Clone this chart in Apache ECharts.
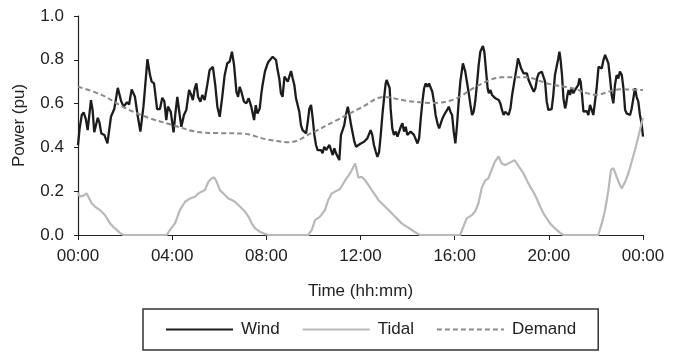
<!DOCTYPE html>
<html><head><meta charset="utf-8">
<script src="https://cdn.jsdelivr.net/npm/echarts@6/dist/echarts.min.js"></script>
<style>html,body{margin:0;padding:0;background:#fff}#c{width:684px;height:363px}</style>
</head><body><div id="c"></div><script>
// Time axis (hours since midnight) and tick labels
const xTickHours = [0, 4, 8, 12, 16, 20, 24];
const xTickLabels = ['00:00', '04:00', '08:00', '12:00', '16:00', '20:00', '00:00'];

// Wind (pu)
const windHours = [0,0.07,0.16,0.24,0.33,0.41,0.55,0.62,0.69,0.84,0.91,0.99,1.12,1.25,1.40,1.54,1.69,1.83,1.94,2.08,2.17,2.28,2.42,2.53,2.65,2.78,2.95,3.06,3.13,3.23,3.36,3.48,3.58,3.67,3.75,
3.82,3.94,4.06,4.13,4.22,4.32,4.39,4.50,4.60,4.72,4.81,4.88,4.96,5.03,5.10,5.20,5.28,5.38,5.49,5.59,5.73,5.83,5.92,6.02,6.12,6.23,6.34,6.44,6.54,6.63,6.73,6.80,6.87,6.94,7.05,7.15,7.25,7.36,7.48,7.55,7.62,7.72,7.79,
7.84,7.94,8.03,8.09,8.17,8.27,8.34,8.41,8.48,8.55,8.62,8.69,8.77,8.84,8.91,8.98,9.05,9.12,9.19,9.26,9.33,9.40,9.47,9.54,9.61,9.69,9.76,9.83,9.90,9.97,10.04,10.11,10.18,10.25,10.32,10.39,10.46,10.54,10.61,10.68,10.75,10.82,10.89,10.96,11.03,11.10,11.17,11.24,11.31,11.38,11.46,11.53,11.60,11.67,11.74,11.81,
11.87,12.01,12.15,12.29,12.43,12.50,12.57,12.65,12.72,12.79,12.86,12.93,13.00,13.07,13.11,13.18,13.24,13.28,13.35,13.42,13.50,13.57,13.64,13.71,13.78,13.85,13.92,13.99,14.06,14.13,14.20,14.27,14.34,14.42,14.49,14.56,14.63,14.70,14.77,14.84,14.91,14.98,15.05,15.12,15.19,15.27,15.34,15.41,15.48,15.55,15.62,
15.68,15.75,15.82,15.89,15.96,16.03,16.10,16.17,16.24,16.35,16.45,16.52,16.60,16.67,16.74,16.81,16.88,16.95,17.02,17.09,17.20,17.26,17.33,17.40,17.45,17.52,17.59,17.66,17.73,17.80,17.87,17.94,18.01,18.08,18.15,18.22,18.29,18.37,18.44,18.51,18.58,18.65,18.69,18.76,18.82,18.88,18.93,19.00,19.07,19.14,19.22,19.29,19.36,19.43,19.50,19.57,
19.70,19.77,19.84,19.91,19.98,20.05,20.12,20.19,20.26,20.33,20.40,20.45,20.50,20.56,20.62,20.69,20.73,20.79,20.84,20.90,20.97,21.04,21.11,21.18,21.25,21.30,21.35,21.41,21.47,21.54,21.61,21.68,21.75,21.82,21.89,21.96,22.03,22.11,22.18,22.25,22.32,22.39,22.46,22.53,22.60,22.67,22.74,22.81,22.88,22.95,23.02,23.10,23.17,23.24,23.31,23.38,23.45,23.52,23.59,23.66,23.73,23.80,23.87,23.94,24.00];
const windPower = [0.41,0.487,0.548,0.56,0.53,0.479,0.616,0.571,0.469,0.535,0.514,0.464,0.457,0.418,0.54,0.575,0.672,0.612,0.586,0.606,0.596,0.665,0.631,0.548,0.472,0.586,0.803,0.73,0.70,0.692,0.575,0.575,0.627,0.609,0.525,
0.586,0.563,0.469,0.548,0.631,0.548,0.494,0.548,0.571,0.662,0.639,0.616,0.67,0.692,0.631,0.609,0.639,0.616,0.685,0.753,0.768,0.685,0.586,0.54,0.624,0.73,0.784,0.791,0.837,0.776,0.654,0.631,0.677,0.654,0.609,0.601,0.624,0.586,0.525,0.593,0.555,0.578,0.647,
0.685,0.746,0.776,0.791,0.799,0.814,0.822,0.799,0.753,0.715,0.647,0.631,0.723,0.73,0.70,0.708,0.749,0.715,0.685,0.624,0.616,0.563,0.502,0.479,0.472,0.464,0.517,0.578,0.594,0.532,0.457,0.411,0.388,0.38,0.388,0.373,0.403,0.388,0.38,0.411,0.388,0.365,0.396,0.373,0.357,0.342,0.457,0.479,0.502,0.548,0.586,0.548,0.502,0.464,0.426,0.403,
0.395,0.418,0.426,0.441,0.479,0.457,0.411,0.38,0.357,0.38,0.457,0.548,0.624,0.692,0.708,0.708,0.67,0.578,0.487,0.457,0.472,0.449,0.457,0.494,0.51,0.472,0.494,0.457,0.464,0.472,0.472,0.457,0.449,0.418,0.441,0.532,0.609,0.669,0.692,0.677,0.692,0.685,0.654,0.609,0.548,0.51,0.487,0.51,0.532,0.548,0.555,
0.571,0.586,0.563,0.548,0.472,0.418,0.502,0.609,0.70,0.784,0.746,0.70,0.647,0.594,0.548,0.563,0.616,0.692,0.776,0.837,0.863,0.837,0.753,0.67,0.647,0.662,0.639,0.647,0.624,0.631,0.616,0.601,0.571,0.548,0.563,0.555,0.548,0.578,0.639,0.685,0.73,0.776,0.806,0.784,0.761,0.753,0.738,0.73,0.738,0.708,0.70,0.67,0.654,0.67,0.715,0.738,
0.746,0.753,0.70,0.609,0.571,0.566,0.575,0.639,0.73,0.768,0.806,0.837,0.799,0.73,0.624,0.578,0.594,0.639,0.662,0.639,0.67,0.647,0.662,0.662,0.685,0.715,0.70,0.639,0.563,0.555,0.566,0.548,0.594,0.571,0.548,0.54,0.669,0.768,0.776,0.761,0.799,0.822,0.814,0.784,0.715,0.639,0.601,0.685,0.73,0.715,0.746,0.73,0.67,0.571,0.555,0.548,0.548,0.578,0.624,0.67,0.631,0.609,0.548,0.51,0.449];

// Tidal (pu)
const tidalHours = [0,0.08,0.23,0.37,0.44,0.58,0.72,0.93,1.15,1.36,1.57,1.78,1.93,3.77,3.91,4.12,4.33,4.55,4.76,4.97,5.11,5.25,5.39,5.54,5.68,5.79,5.89,6.03,6.24,6.39,6.53,6.67,6.81,6.95,7.09,7.24,7.38,7.52,7.73,7.94,8.09,
9.78,9.93,10.07,10.28,10.49,10.63,10.78,10.92,11.13,11.34,11.56,11.70,11.77,11.84,11.91,12.05,12.19,12.34,12.48,12.62,12.76,12.90,13.04,13.19,13.40,13.54,13.75,13.96,14.18,14.39,14.53,
16.23,16.37,16.51,16.73,16.87,17.01,17.15,17.29,17.43,17.57,17.71,17.86,17.93,18.00,18.14,18.28,18.42,18.54,18.64,18.78,18.92,19.06,19.20,19.34,19.48,19.63,19.77,19.91,20.05,20.26,20.48,20.62,
22.10,22.25,22.39,22.53,22.64,22.74,22.88,23.02,23.10,23.24,23.38,23.52,23.66,23.80,23.94,24.00];
const tidalPower = [0.193,0.175,0.18,0.19,0.175,0.145,0.13,0.114,0.09,0.053,0.03,0.01,0,0,0.023,0.053,0.114,0.152,0.167,0.175,0.19,0.198,0.205,0.243,0.259,0.263,0.243,0.205,0.183,0.167,0.16,0.152,0.137,0.122,0.107,0.084,0.053,0.03,0.015,0.005,0,
0,0.023,0.068,0.084,0.114,0.16,0.19,0.198,0.21,0.248,0.282,0.312,0.327,0.297,0.262,0.266,0.251,0.228,0.205,0.183,0.16,0.145,0.13,0.114,0.091,0.076,0.053,0.038,0.023,0.008,0,
0,0.038,0.076,0.091,0.107,0.145,0.215,0.248,0.259,0.297,0.335,0.358,0.35,0.327,0.32,0.327,0.335,0.342,0.327,0.304,0.282,0.251,0.221,0.198,0.168,0.13,0.099,0.076,0.053,0.03,0.01,0,
0,0.053,0.114,0.205,0.297,0.305,0.266,0.228,0.213,0.243,0.282,0.335,0.388,0.449,0.51,0.534];

// Demand (pu), hourly
const demandHours = [0,1,2,3,4,5,6,7,8,9,10,11,12,13,14,15,16,17,18,19,20,21,22,23,24];
const demandPower = [0.677,0.64,0.58,0.535,0.503,0.472,0.465,0.463,0.437,0.424,0.47,0.525,0.58,0.63,0.612,0.603,0.62,0.683,0.72,0.72,0.69,0.67,0.64,0.665,0.662];

const pairs = (xs, ys) => xs.map((x, i) => [x, ys[i]]);
const FONT = 'Liberation Sans, Arial, Helvetica, sans-serif';
const TXT = '#222';

const chart = echarts.init(document.getElementById('c'), null, {renderer: 'canvas'});
chart.setOption({
  animation: false,
  backgroundColor: '#fff',
  textStyle: {fontFamily: FONT, color: TXT},
  grid: {left: 78, right: 41, top: 16, bottom: 128, containLabel: false},
  xAxis: {
    type: 'value', min: 0, max: 24, interval: 4,
    name: 'Time (hh:mm)', nameLocation: 'middle', nameGap: 48,
    nameTextStyle: {fontSize: 17, color: TXT, fontFamily: FONT},
    axisLine: {show: true, lineStyle: {color: '#222', width: 1.2}},
    axisTick: {show: true, length: 5, lineStyle: {color: '#222'}},
    axisLabel: {fontSize: 17, color: TXT, margin: 13, fontFamily: FONT,
      formatter: v => { const i = xTickHours.indexOf(v); return i >= 0 ? xTickLabels[i] : ''; }},
    splitLine: {show: false}
  },
  yAxis: {
    type: 'value', min: 0, max: 1, interval: 0.2,
    name: 'Power (pu)', nameLocation: 'middle', nameGap: 50,
    nameTextStyle: {fontSize: 17, color: TXT, fontFamily: FONT},
    axisLine: {show: true, lineStyle: {color: '#222', width: 1.2}},
    axisTick: {show: true, length: 4, lineStyle: {color: '#222'}},
    axisLabel: {fontSize: 17, color: TXT, margin: 14, fontFamily: FONT, formatter: v => v.toFixed(1)},
    splitLine: {show: false}
  },
  legend: {
    left: 143, top: 309, orient: 'horizontal',
    borderColor: '#333', borderWidth: 1.5,
    padding: [12, 22, 12, 22],
    itemWidth: 67, itemHeight: 14, itemGap: 22,
    itemStyle: {opacity: 0, borderWidth: 0},
    textStyle: {fontSize: 17, color: TXT, fontFamily: FONT, padding: [0, 0, 0, 3]},
    data: ['Wind', 'Tidal', 'Demand']
  },
  series: [
    {name: 'Wind', type: 'line', symbol: 'none', data: pairs(windHours, windPower),
      lineStyle: {color: '#1c1c1c', width: 2.3}, itemStyle: {color: '#1c1c1c'}},
    {name: 'Tidal', type: 'line', symbol: 'none', data: pairs(tidalHours, tidalPower),
      lineStyle: {color: '#b9b9b9', width: 2.2}, itemStyle: {color: '#b9b9b9'}},
    {name: 'Demand', type: 'line', symbol: 'none', smooth: 0.35, data: pairs(demandHours, demandPower),
      lineStyle: {color: '#8a8a8a', width: 2, type: [5, 3]}, itemStyle: {color: '#8a8a8a'}}
  ]
});
</script></body></html>
